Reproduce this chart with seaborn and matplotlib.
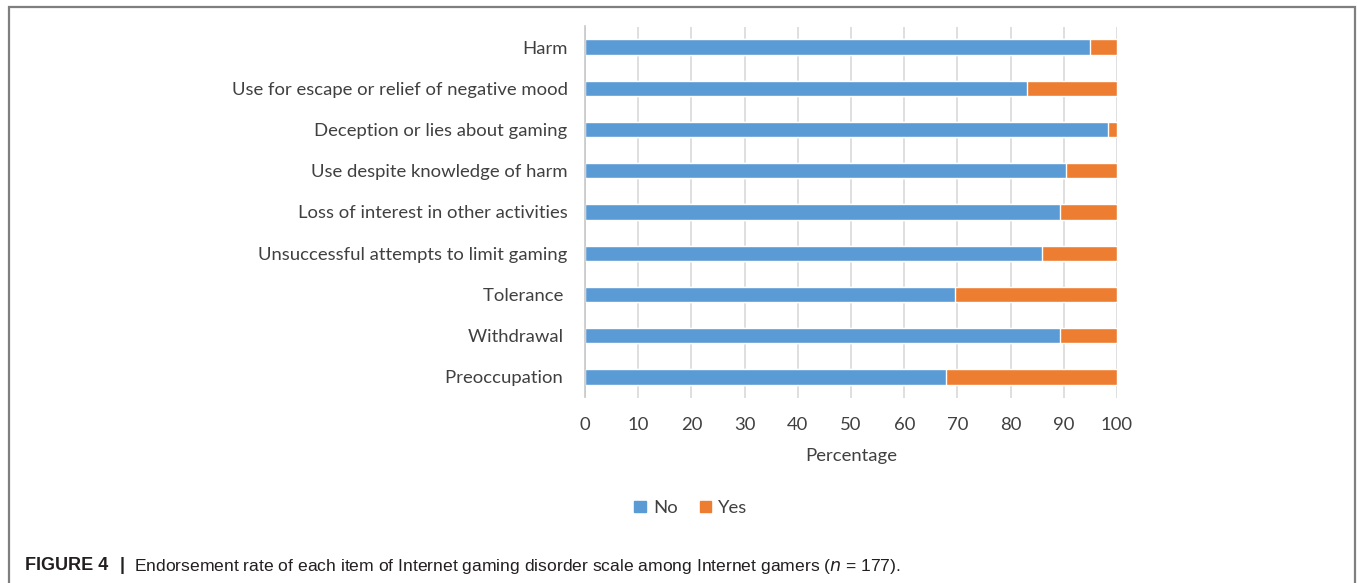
import matplotlib
matplotlib.use("Agg")
import matplotlib.pyplot as plt
import matplotlib.patches as mpatches
import seaborn as sns
import pandas as pd

# Items of the Internet gaming disorder scale (top to bottom)
items = [
    "Harm",
    "Use for escape or relief of negative mood",
    "Deception or lies about gaming",
    "Use despite knowledge of harm",
    "Loss of interest in other activities",
    "Unsuccessful attempts to limit gaming",
    "Tolerance ",
    "Withdrawal ",
    "Preoccupation ",
]
# Percentage of gamers (n = 177) answering No / Yes
no_pct = [94.9, 83.1, 98.3, 90.4, 89.3, 85.9, 69.5, 89.3, 67.8]
yes_pct = [5.1, 16.9, 1.7, 9.6, 10.7, 14.1, 30.5, 10.7, 32.2]
x_ticks = [0, 10, 20, 30, 40, 50, 60, 70, 80, 90, 100]

BLUE = "#5B9BD5"
ORANGE = "#ED7D31"
GRID = "#D9D9D9"
TXT = "#404040"
FS = 13.3

df = pd.DataFrame({"item": items, "No": no_pct, "Yes": yes_pct})
df["total"] = df["No"] + df["Yes"]

sns.set_theme(style="white")
plt.rcParams["font.family"] = ["Lato", "DejaVu Sans"]

fig = plt.figure(figsize=(13.57, 5.83), dpi=100)
W, H = 1357, 583
ax = fig.add_axes([585 / W, 1 - 397.5 / H, (1117 - 585) / W, (397.5 - 26.5) / H])

# Stacked bars: full length (Yes on the right) first, then the No share over it
sns.barplot(data=df, x="total", y="item", color=ORANGE, width=0.37,
            saturation=1, ax=ax, orient="h")
sns.barplot(data=df, x="No", y="item", color=BLUE, width=0.37,
            saturation=1, ax=ax, orient="h")

ax.set_xlim(0, 100)
ax.set_ylim(8.5, -0.5)
ax.set_xticks(x_ticks)
ax.set_xticklabels([str(t) for t in x_ticks])
ax.set_axisbelow(True)
ax.grid(axis="x", color=GRID, linewidth=1.2)
ax.grid(axis="y", visible=False)
for side in ["top", "right", "bottom"]:
    ax.spines[side].set_visible(False)
ax.spines["left"].set_color("#C8C8C8")
ax.spines["left"].set_linewidth(1.2)
ax.tick_params(axis="both", length=0, labelsize=FS, colors=TXT)
ax.tick_params(axis="y", pad=12.5)
ax.tick_params(axis="x", pad=14)
ax.set_ylabel("")
ax.set_xlabel("Percentage", fontsize=FS, color=TXT, labelpad=11)

# Legend
handles = [mpatches.Patch(color=BLUE, label="No"),
           mpatches.Patch(color=ORANGE, label="Yes")]
fig.legend(handles=handles, loc="center", bbox_to_anchor=(691 / W, 1 - 508 / H),
           ncol=2, frameon=False, fontsize=FS, handlelength=0.6, handleheight=0.6,
           handletextpad=0.4, columnspacing=1.2, labelcolor=TXT)

# Caption
cap_y = 1 - 566 / H
fig.text(25 / W, cap_y, "FIGURE 4", fontsize=13, fontweight="bold",
         family="Liberation Sans", va="center", color="#231F20")
fig.text(120 / W, cap_y, "|", fontsize=13, fontweight="bold",
         family="Liberation Sans", va="center", color="#231F20")
fig.text(134 / W, cap_y,
         r"Endorsement rate of each item of Internet gaming disorder scale among Internet gamers ($\it{n}$ = 177).",
         fontsize=12.6, family="Liberation Sans", va="center", color="#231F20")

# Panel frame
fig.add_artist(mpatches.Rectangle((9 / W, -0.05), (1355 - 9) / W, 1.05 - 7 / H,
                                  transform=fig.transFigure, fill=False,
                                  edgecolor="#7F7F7F", linewidth=1.6))

fig.savefig("out.png", dpi=100)
